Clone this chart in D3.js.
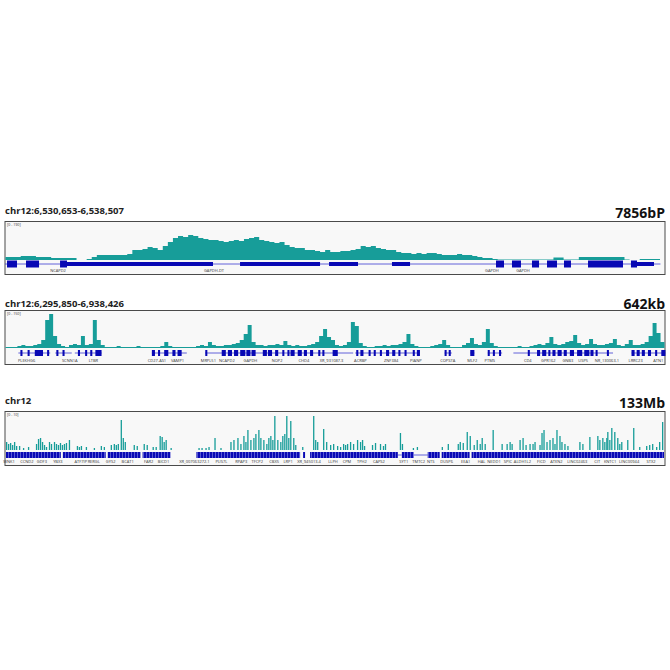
<!DOCTYPE html>
<html><head><meta charset="utf-8">
<script src="https://cdn.jsdelivr.net/npm/d3@7"></script>
<style>body{margin:0;background:#fff}svg{display:block}text{font-family:"Open Sans",sans-serif}</style>
</head><body><svg id="c" width="670" height="670"></svg>
<script>
// ---------- Panel 1: chr12:6,530,653-6,538,507 (7856 bp), signal in 60 bp bins ----------
const p1Title = "chr12:6,530,653-6,538,507";
const p1Span = "7856bP";
const p1Range = "[0 - 190]";
const p1Signal = [3,3,3,4,4,4,3,3,3,2,2,2,2,2,0,0,1,3,5,5,5,5,5,5,6,10,10,11,13,12,10,14,18,22,24,23,25,24,22,21,20,20,19,18,19,20,19,21,22,23,20,19,18,17,18,15,13,12,12,10,10,9,8,10,8,8,9,9,10,11,14,13,14,12,11,10,10,8,7,7,6,7,6,7,7,6,5,5,5,6,5,5,4,3,2,2,1,0.5,0.5,0.5,0.5,0.5,0.5,0.5,0.5,0.5,0.5,0.5,2.5,2.5,0.5,0.5,0.5,3,3,3,3,3,3,3,3,3,0.5,0,0,1,1,1,1,1];
// gene model, offsets in bp from 6,530,653
const p1Introns = [[0,7800]];
const p1Exons = [[24,143],[250,405],[655,738],[5843,5938],[6033,6140],[6271,6355],[6450,6569],[6652,6735],[6938,7354],[7449,7521]];
const p1Thick = [[738,2475],[2797,3749],[3856,4201],[4605,4820],[7521,7723]];
const p1GeneNames = ["NCAPD2","GAPDH-DT","GAPDH","GAPDH"];
const p1GenePos = [631,2487,5795,6164];

// ---------- Panel 2: chr12:6,295,850-6,938,426 (642 kb), signal in ~3.9 kb bins ----------
const p2Title = "chr12:6,295,850-6,938,426";
const p2Span = "642kb";
const p2Range = "[0 - 150]";
const p2Signal = [1,1,1,2,3,2,2,3,4,8,28,34,12,4,2,1,3,4,3,12,3,4,28,8,3,1,1,1,2,1,1,1,1,2,1,1,1,1,1,2,6,2,1,1,1,1,1,1,2,3,2,6,3,2,2,3,3,4,5,8,14,23,6,3,3,2,3,3,4,3,7,3,2,3,2,2,3,4,6,12,19,11,8,3,2,3,6,26,22,5,2,1,1,2,2,3,2,3,3,4,6,14,4,2,1,1,1,2,3,4,8,3,1,1,1,3,5,10,4,3,6,19,5,2,1,1,1,1,1,2,1,1,2,3,4,3,5,11,4,3,4,6,7,13,5,3,4,9,4,3,3,4,5,9,3,2,4,8,3,3,4,6,12,25,15,6];
// gene models, kb offsets from 6,295,850
const p2Introns = [[13,44],[49,65],[68,94],[143,177],[195,339],[341,404],[428,435],[453,457],[470,484],[495,592],[610,643]];
const p2Exons = [[15,17],[22,24],[29,37],[41,43],[50,52],[56,58],[71,73],[78,80],[83,85],[88,94],[143,146],[149,151],[155,159],[163,166],[168,172],[195,197],[211,215],[217,221],[223,227],[229,234],[235,239],[240,244],[251,255],[256,260],[263,266],[270,272],[275,277],[278,282],[285,289],[291,294],[297,300],[305,307],[309,311],[319,324],[342,344],[346,349],[354,356],[359,361],[365,367],[371,374],[377,380],[383,385],[389,391],[397,399],[401,404],[428,430],[432,434],[453,457],[470,472],[475,477],[481,483],[509,511],[518,521],[523,527],[529,531],[533,536],[538,542],[544,547],[550,554],[557,562],[564,569],[570,573],[575,577],[586,588],[610,613],[615,618],[620,623],[626,629],[633,635],[639,643]];
const p2GeneNames = ["PLEKHG6","SCNN1A","LTBR","CD27-AS1","VAMP1","MRPL51","NCAPD2","GAPDH","NOP2","CHD4","XR_931087.3","ACRBP","ZNF384","PIANP","COPS7A","MLF2","PTMS","CD4","GPR162","GNB3","USP5","NR_130063.1","LRRC23","ATN1"];
const p2GenePos = [21,63,86,148,168,198,216,239,265,291,318,346,376,400,431,455,472,509,529,548,563,586,614,636];

// ---------- Panel 3: whole chr12 (133 Mb) ----------
const p3Title = "chr12";
const p3Span = "133Mb";
const p3Range = "[0 - 10]";
const p3PosMb = [0.0,0.4,0.8,1.2,1.6,2.0,2.6,3.4,4.4,6.0,6.4,6.8,7.2,7.6,8.0,8.6,9.0,9.6,10.0,10.4,10.8,11.2,11.6,12.0,12.6,14.2,14.6,15.0,16.0,17.6,19.0,19.6,21.0,21.6,22.0,22.4,23.0,23.4,23.8,25.6,26.2,27.6,28.2,29.4,30.0,30.8,31.2,31.6,32.0,33.0,38.6,39.2,40.0,40.6,41.8,43.0,45.0,45.6,46.4,47.0,47.6,48.0,48.4,49.0,49.6,50.0,50.6,51.0,51.6,52.2,52.6,53.0,53.4,53.8,54.4,55.0,55.4,55.8,56.2,56.6,57.0,57.6,58.0,59.4,61.6,62.0,62.4,63.6,64.2,65.0,65.6,66.4,67.0,67.6,68.0,68.4,69.0,69.6,70.4,71.0,71.4,71.8,73.4,74.0,75.0,75.6,76.0,79.0,79.4,81.6,82.4,87.4,88.6,90.6,91.0,91.6,92.4,93.0,93.8,94.4,95.0,95.4,96.0,97.6,99.4,100.4,101.0,101.4,103.0,103.6,104.2,105.0,105.6,106.0,107.0,107.4,107.8,108.4,109.0,109.6,110.0,110.4,111.0,111.4,112.0,112.6,115.0,115.6,117.0,118.6,119.0,119.6,120.0,120.4,120.6,121.0,121.4,122.0,122.6,123.0,123.4,124.6,125.8,127.0,128.4,129.0,129.6,130.4,131.0,131.6];
const p3Signal = [8,6,7,5,8,4,4,2,3,6,11,12,8,5,3,8,6,8,6,5,7,5,6,7,10,4,3,4,3,2,4,3,5,6,5,6,30,12,8,5,4,6,5,3,3,14,13,8,10,2,2,2,2,3,12,2,8,10,12,6,14,8,20,10,12,16,20,12,10,6,12,14,10,34,10,8,14,16,34,12,29,12,5,3,34,10,8,21,8,5,6,4,3,6,5,6,8,6,10,8,10,4,5,7,6,4,6,17,6,2,3,3,6,6,8,7,18,14,5,10,6,12,6,20,6,6,8,6,10,12,5,6,6,8,5,17,20,8,10,12,6,20,14,8,6,4,8,6,13,14,10,12,8,12,18,10,22,18,12,6,8,10,22,3,4,5,6,3,8,28];
const p3GeneBlocks = [[0,11],[11.4,20],[20.4,27],[27.4,33],[38.2,59],[59.6,60],[61,78.6],[79.4,81.8],[84.6,87],[87.4,93],[93.4,132]];
const p3GeneLinks = [[78.6,79.4],[81.8,84.6]];
const p3GeneNames = ["WNK1","CCND2","GDF3","YBX3","ATF7IP","RERGL","GYS2","BCAT1","FAR2","BICD1","XR_007063272.1","PUS7L","RPAP3","TFCP2","CBX5","LRP1","XR_945013.4","LLPH","CPM","TPH2","CAPS2","SYT1","TMTC2","NTS","DUSP6","EEA1","HAL","NEDD1","SPIC","ALDH1L2","FICD","ATXN2","LINC02463","CIT","KNTC1","LINC00944","STX2"];
const p3GenePos = [0.6,4.2,7.2,10.4,15.0,17.6,21.0,24.4,28.6,31.6,37.8,43.2,47.2,50.4,53.8,56.6,60.8,65.6,68.4,71.4,74.8,79.8,82.8,85.2,88.4,92.2,95.4,97.9,100.7,103.6,107.4,110.4,114.6,118.6,121.2,125.0,129.4];

// ---------- drawing ----------
const TEAL = "#179d99", BLUE = "#0808b4", LINE = "#3a3ad0";
const svg = d3.select("#c");
svg.append("rect").attr("width",670).attr("height",670).attr("fill","#fff");
const defs = svg.append("defs");
const pat = defs.append("pattern").attr("id","band").attr("patternUnits","userSpaceOnUse").attr("width",3).attr("height",10);
pat.append("rect").attr("width",3).attr("height",10).attr("fill",BLUE);
pat.append("rect").attr("x",2.2).attr("width",0.6).attr("height",10).attr("fill","#8a8ae6");

const L = 5, R = 665;

function frame(g, top, bottom, title, span, range, titleY, spanY){
  g.append("text").attr("x",L).attr("y",titleY).attr("font-size",9.5).attr("font-weight",700).attr("fill","#222").text(title);
  g.append("text").attr("x",R).attr("y",spanY).attr("text-anchor","end").attr("font-size",14).attr("font-weight",700).attr("fill","#111").text(span);
  g.append("rect").attr("x",L).attr("y",top).attr("width",R-L).attr("height",bottom-top).attr("fill","#f8f8f8").attr("stroke","#4a4a4a").attr("stroke-width",1);
  g.append("text").attr("x",L+2).attr("y",top+4.5).attr("font-size",3.6).attr("fill","#333").text(range);
}

function geneLabels(g, x, names, pos, y){
  g.selectAll(null).data(names).enter().append("text")
    .attr("x",(d,i)=>x(pos[i])).attr("y",y).attr("text-anchor","middle")
    .attr("font-size",4).attr("fill","#333").text(d=>d);
}

// Panel 1
{
  const g = svg.append("g");
  frame(g, 221.5, 274.5, p1Title, p1Span, p1Range, 214, 218);
  const xi = d3.scaleLinear().domain([0, p1Signal.length-1]).range([L+0.5, R-5]);
  const y = d3.scaleLinear().domain([0, 32]).range([260, 228]);
  g.append("path").datum(p1Signal).attr("fill",TEAL)
    .attr("d", d3.area().x((d,i)=>xi(i)).y0(y(0)).y1(d=>y(d)).curve(d3.curveStepAfter));
  const xg = d3.scaleLinear().domain([0, 7854]).range([L, R]);
  const gy = 264;
  g.selectAll(null).data(p1Introns).enter().append("line")
    .attr("x1",d=>xg(d[0])).attr("x2",d=>xg(d[1])).attr("y1",gy).attr("y2",gy).attr("stroke",LINE).attr("stroke-width",0.8);
  g.selectAll(null).data(p1Thick).enter().append("rect")
    .attr("x",d=>xg(d[0])).attr("width",d=>xg(d[1])-xg(d[0])).attr("y",gy-2).attr("height",4).attr("fill",BLUE);
  g.selectAll(null).data(p1Exons).enter().append("rect")
    .attr("x",d=>xg(d[0])).attr("width",d=>xg(d[1])-xg(d[0])).attr("y",gy-3.5).attr("height",7).attr("fill",BLUE);
  geneLabels(g, xg, p1GeneNames, p1GenePos, 272);
}

// Panel 2
{
  const g = svg.append("g");
  frame(g, 310.5, 364.5, p2Title, p2Span, p2Range, 306.5, 308.5);
  const xi = d3.scaleLinear().domain([0, p2Signal.length]).range([L+0.5, R-0.5]);
  const y = d3.scaleLinear().domain([0, 36]).range([348, 312]);
  g.append("path").datum(p2Signal.concat([p2Signal[p2Signal.length-1]])).attr("fill",TEAL)
    .attr("d", d3.area().x((d,i)=>xi(i)).y0(y(0)).y1(d=>y(d)).curve(d3.curveStepAfter));
  const xg = d3.scaleLinear().domain([0, 642.6]).range([L, R]);
  const gy = 353;
  g.selectAll(null).data(p2Introns).enter().append("line")
    .attr("x1",d=>xg(d[0])).attr("x2",d=>xg(d[1])).attr("y1",gy).attr("y2",gy).attr("stroke",LINE).attr("stroke-width",0.8);
  g.selectAll(null).data(p2Exons).enter().append("rect")
    .attr("x",d=>xg(d[0])).attr("width",d=>Math.max(1.2,xg(d[1])-xg(d[0]))).attr("y",gy-3).attr("height",6).attr("fill",BLUE);
  geneLabels(g, xg, p2GeneNames, p2GenePos, 362);
}

// Panel 3
{
  const g = svg.append("g");
  frame(g, 411.5, 465.5, p3Title, p3Span, p3Range, 404, 408);
  const x = d3.scaleLinear().domain([0, 132]).range([L+1, R-1]);
  const y = d3.scaleLinear().domain([0, 36]).range([450, 414]);
  g.selectAll(null).data(p3Signal).enter().append("rect")
    .attr("x",(d,i)=>x(p3PosMb[i])).attr("width",1.3)
    .attr("y",d=>y(d)).attr("height",d=>y(0)-y(d)).attr("fill",TEAL);
  const gy = 455;
  g.selectAll(null).data(p3GeneLinks).enter().append("line")
    .attr("x1",d=>x(d[0])).attr("x2",d=>x(d[1])).attr("y1",gy).attr("y2",gy).attr("stroke",LINE).attr("stroke-width",0.8);
  g.selectAll(null).data(p3GeneBlocks).enter().append("rect")
    .attr("x",d=>x(d[0])).attr("width",d=>x(d[1])-x(d[0])).attr("y",gy-3).attr("height",6).attr("fill","url(#band)");
  geneLabels(g, x, p3GeneNames, p3GenePos, 463);
}
</script></body></html>
